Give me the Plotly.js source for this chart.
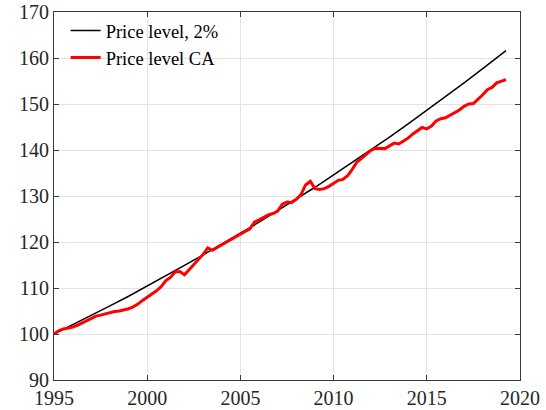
<!DOCTYPE html>
<html>
<head>
<meta charset="utf-8">
<script src="https://cdn.plot.ly/plotly-3.0.1.min.js"></script>
<style>html,body{margin:0;padding:0;background:#fff;}#chart{width:546px;height:410px;}</style>
</head>
<body>
<div id="chart"></div>
<script>
// Price level with 2% annual growth
const trendYears = [1995,1996,1997,1998,1999,2000,2001,2002,2003,2004,2005,2006,2007,2008,2009,2010,2011,2012,2013,2014,2015,2016,2017,2018,2019,2019.25];
const trendLevel = [100.0,102.0,104.0,106.1,108.2,110.4,112.6,114.9,117.2,119.5,121.9,124.3,126.8,129.4,131.9,134.6,137.3,140.0,142.8,145.7,148.6,151.6,154.6,157.7,160.8,161.6];

// Price level CA, quarterly
const caDates = [
1995.00,1995.25,1995.50,1995.75,1996.00,1996.25,1996.50,1996.75,
1997.00,1997.25,1997.50,1997.75,1998.00,1998.25,1998.50,1998.75,
1999.00,1999.25,1999.50,1999.75,2000.00,2000.25,2000.50,2000.75,
2001.00,2001.25,2001.50,2001.75,2002.00,2002.25,2002.50,2002.75,
2003.00,2003.25,2003.50,2003.75,2004.00,2004.25,2004.50,2004.75,
2005.00,2005.25,2005.50,2005.75,2006.00,2006.25,2006.50,2006.75,
2007.00,2007.25,2007.50,2007.75,2008.00,2008.25,2008.50,2008.75,
2009.00,2009.25,2009.50,2009.75,2010.00,2010.25,2010.50,2010.75,
2011.00,2011.25,2011.50,2011.75,2012.00,2012.25,2012.50,2012.75,
2013.00,2013.25,2013.50,2013.75,2014.00,2014.25,2014.50,2014.75,
2015.00,2015.25,2015.50,2015.75,2016.00,2016.25,2016.50,2016.75,
2017.00,2017.25,2017.50,2017.75,2018.00,2018.25,2018.50,2018.75,
2019.00,2019.25];
const caLevel = [
100.0,100.7,101.1,101.3,101.5,101.9,102.4,102.8,
103.4,103.9,104.1,104.4,104.6,104.9,105.0,105.2,
105.5,105.9,106.5,107.3,108.1,108.7,109.4,110.3,
111.6,112.3,113.5,113.6,112.9,114.0,115.3,116.4,
117.3,118.7,118.2,118.8,119.4,120.0,120.6,121.2,
121.7,122.3,122.8,124.3,124.8,125.4,125.9,126.2,
126.7,128.2,128.7,128.6,129.3,130.3,132.4,133.2,
131.6,131.4,131.6,132.1,132.8,133.4,133.6,134.4,
135.8,137.4,138.2,139.0,139.9,140.4,140.3,140.3,
140.9,141.5,141.3,141.9,142.6,143.5,144.3,144.9,
144.6,145.2,146.3,146.8,147.0,147.6,148.2,148.7,
149.5,150.0,150.1,151.0,152.0,153.1,153.6,154.6,
155.0,155.3];

const traces = [
  {x: trendYears, y: trendLevel, type: 'scatter', mode: 'lines', name: 'Price level, 2%',
   line: {color: '#000000', width: 1.5}},
  {x: caDates, y: caLevel, type: 'scatter', mode: 'lines', name: 'Price level CA',
   line: {color: '#ff0000', width: 3}}
];

const layout = {
  width: 546, height: 410,
  margin: {l: 54, r: 26, t: 12, b: 30},
  paper_bgcolor: '#ffffff', plot_bgcolor: '#ffffff',
  font: {family: 'Liberation Serif', size: 20, color: '#262626'},
  showlegend: true,
  legend: {x: 0.025, y: 1.0, xanchor: 'left', yanchor: 'top',
    bgcolor: 'rgba(255,255,255,0)', borderwidth: 0,
    font: {size: 18.5, color: '#000000'}},
  xaxis: {range: [1995, 2020], tick0: 1995, dtick: 5,
    showgrid: true, gridcolor: '#e3e3e3', showline: true, linecolor: '#3a3a3a', linewidth: 1,
    mirror: 'ticks', ticks: 'inside', ticklen: 5, tickcolor: '#3a3a3a', zeroline: false},
  yaxis: {range: [90, 170], tick0: 90, dtick: 10,
    showgrid: true, gridcolor: '#e3e3e3', showline: true, linecolor: '#3a3a3a', linewidth: 1,
    mirror: 'ticks', ticks: 'inside', ticklen: 5, tickcolor: '#3a3a3a', zeroline: false}
};

Plotly.newPlot('chart', traces, layout, {displayModeBar: false, staticPlot: true});
</script>
</body>
</html>
